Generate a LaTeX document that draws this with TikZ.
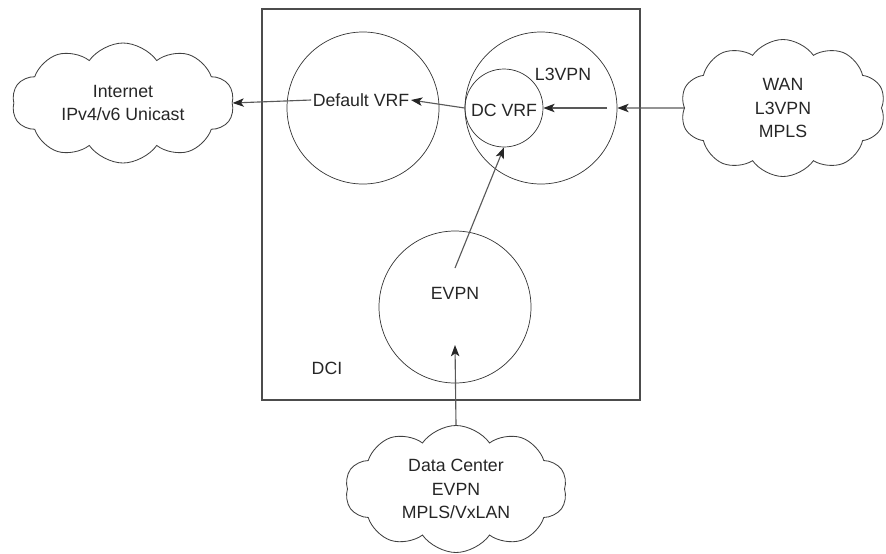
\documentclass[tikz,border=0pt]{standalone}
\usepackage{fontspec}
\setmainfont{Liberation Sans}
\usepackage{tikz}
\usetikzlibrary{shapes.symbols, arrows.meta}

\tikzset{
  vrf/.style={draw=black!80, circle, line width=0.5pt, minimum size=152*0.025cm, inner sep=0pt},
  net/.style={draw=black!75, cloud, cloud puffs=10, cloud puff arc=110, cloud ignores aspect,
    line width=0.6pt, align=center, inner sep=0pt},
  lbl/.style={font=\fontsize{12.6}{16.5}\selectfont, text=black!85, inner sep=1pt},
  flow/.style={draw=black!65, line width=0.8pt, -{Stealth[length=8pt, width=6pt, inset=2pt, black!85]}}
}

\begin{document}
\begin{tikzpicture}[x=0.025cm, y=-0.025cm]
\useasboundingbox (0,0) rectangle (886,553);
% DCI box
\draw[black!70, line width=0.8pt] (262,9) rectangle (640,400);
\node[lbl] (dci) at (327,368) {DCI};

% VRF circles
\node[vrf] (defvrf) at (363,108) {};
\node[vrf] (l3vpn) at (541,108) {};
\node[vrf, minimum size=78*0.025cm] (dcvrf) at (504,108) {};
\node[vrf] (evpn) at (455,307) {};
\node[lbl] (deftxt) at (361,100) {Default VRF};
\node[lbl] (l3txt) at (563,74) {L3VPN};
\node[lbl] (dctxt) at (504,110) {DC VRF};
\node[lbl] (evtxt) at (455,293) {EVPN};

% outside networks
\node[net, lbl, minimum width=222*0.025cm, minimum height=120*0.025cm] (inet) at (123,103) {Internet\\IPv4/v6 Unicast};
\node[net, lbl, minimum width=205*0.025cm, minimum height=137*0.025cm] (wan) at (783,108) {WAN\\L3VPN\\MPLS};
\node[net, lbl, minimum width=222*0.025cm, minimum height=127*0.025cm] (dcnet) at (456,489) {Data Center\\EVPN\\MPLS/VxLAN};

\coordinate (l3in) at (607,108);
\coordinate (evout) at (455,268);
\coordinate (evin) at (455,345);

% flows
\draw[flow] (wan.west) -- (l3vpn.east);
\draw[flow] (l3in) -- (dcvrf.east);
\draw[flow] (dcvrf.west) -- (deftxt.east);
\draw[flow] (deftxt.west) -- (inet.east);
\draw[flow] (evout) -- (dcvrf.south);
\draw[flow] (dcnet.north) -- (evin);
\end{tikzpicture}
\end{document}
